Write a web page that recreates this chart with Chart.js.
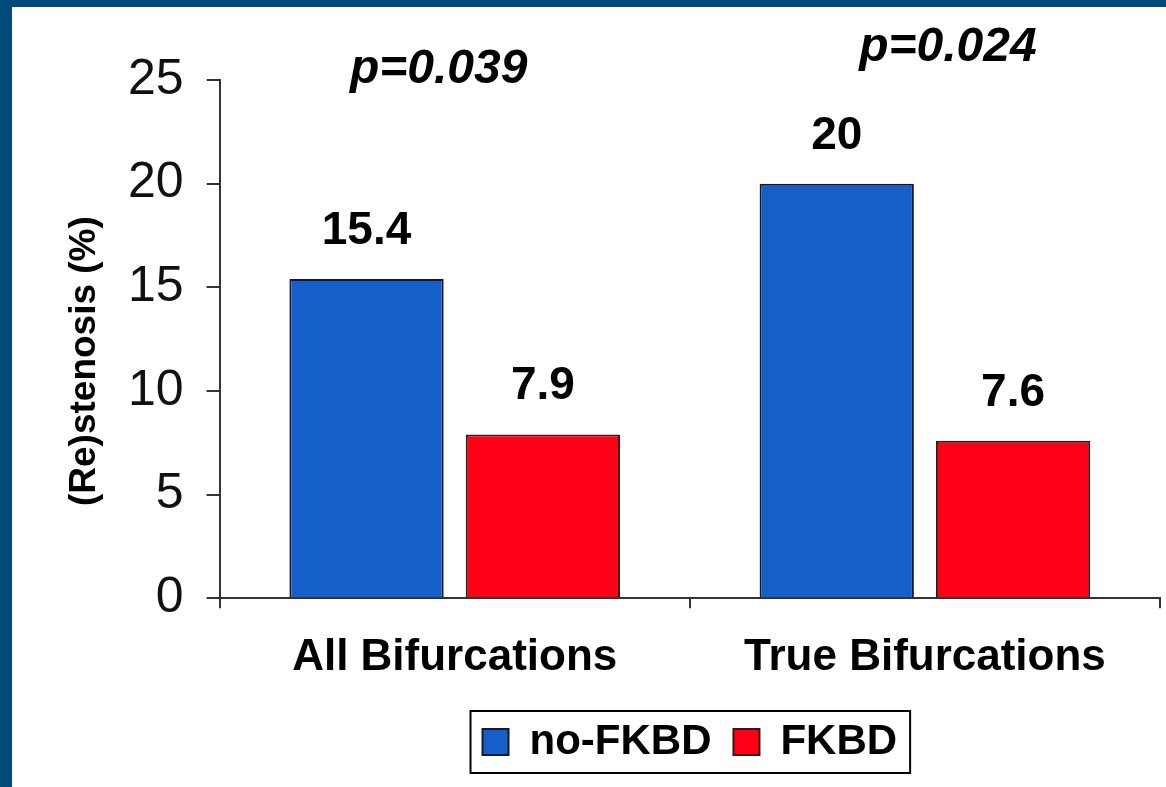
<!DOCTYPE html>
<html>
<head>
<meta charset="utf-8">
<script src="https://cdn.jsdelivr.net/npm/chart.js@4.4.0/dist/chart.umd.min.js"></script>
<style>
  html, body { margin: 0; padding: 0; }
  body { width: 1166px; height: 787px; background: #004a7a; position: relative; overflow: hidden; }
  #wrap { position: absolute; left: 12px; top: 7px; width: 1154px; height: 780px; background: #ffffff; }
</style>
</head>
<body>
<div id="wrap"><canvas id="chart" width="1154" height="780"></canvas></div>
<script>
// chart values
var categories = ["All Bifurcations", "True Bifurcations"];
var seriesNames = ["no-FKBD", "FKBD"];
var noFkbd = [15.4, 20];
var fkbd = [7.9, 7.6];
var valueLabels = [["15.4", "20"], ["7.9", "7.6"]];
var pValues = ["p=0.039", "p=0.024"];
var yTicks = [0, 5, 10, 15, 20, 25];
var yTitle = "(Re)stenosis (%)";

var BLUE = "#1560c8";
var RED = "#ff0016";
var FONT = "'Liberation Sans', Arial, sans-serif";

// writes the numbers above each bar, the p-values and the y title
var barLabels = {
    id: "barLabels",
    afterDatasetsDraw: function (chart) {
        var ctx = chart.ctx;
        ctx.save();
        ctx.fillStyle = "#000";
        ctx.textAlign = "center";
        ctx.textBaseline = "alphabetic";
        ctx.font = "bold 46px " + FONT;
        for (var d = 0; d < chart.data.datasets.length; d++) {
            var meta = chart.getDatasetMeta(d);
            for (var i = 0; i < meta.data.length; i++) {
                var bar = meta.data[i];
                ctx.fillText(valueLabels[d][i], bar.x, bar.y - 35);
            }
        }
        // p-values sit a bit off the group centre, at different heights
        var xs = chart.scales.x;
        var shift = [-16, 23];
        var lift = [-3, 19];
        ctx.font = "italic bold 48px " + FONT;
        for (var j = 0; j < pValues.length; j++)
            ctx.fillText(pValues[j], xs.getPixelForValue(j) + shift[j], chart.chartArea.top - lift[j]);

        // y title, a little below the middle of the axis as in the original
        ctx.translate(73, (chart.chartArea.top + chart.chartArea.bottom) / 2 + 22);
        ctx.rotate(-Math.PI / 2);
        ctx.textBaseline = "middle";
        ctx.font = "bold 37px " + FONT;
        ctx.fillText(yTitle, 0, 0);
        ctx.restore();
    }
};

// draws the frame round the legend
var legendFrame = {
    id: "legendFrame",
    afterDraw: function (chart) {
        var boxes = chart.legend.legendHitBoxes;
        if (!boxes || !boxes.length) return;
        var first = boxes[0];
        var last = boxes[boxes.length - 1];
        var cy = first.top + first.height / 2;
        var ctx = chart.ctx;
        ctx.save();
        ctx.strokeStyle = "#000";
        ctx.lineWidth = 2;
        ctx.strokeRect(first.left - 12, cy - 31, last.left + last.width + 13 - (first.left - 12), 62);
        ctx.restore();
    }
};

new Chart(document.getElementById("chart"), {
    type: "bar",
    data: {
        labels: categories,
        datasets: [
            {
                label: seriesNames[0],
                data: noFkbd,
                backgroundColor: BLUE,
                borderColor: "#16163a",
                borderWidth: 2,
            },
            {
                label: seriesNames[1],
                data: fkbd,
                backgroundColor: RED,
                borderColor: "#3a1616",
                borderWidth: 2,
            },
        ]
    },
    options: {
        responsive: false,
        animation: false,
        categoryPercentage: 0.75,
        barPercentage: 0.875,
        layout: {
            padding: { left: 93, top: 73, right: 6, bottom: 14 }
        },
        plugins: {
            tooltip: { enabled: false },
            legend: {
                position: "bottom",
                fullSize: false,
                labels: {
                    font: { family: FONT, size: 42, weight: "bold" },
                    color: "#000",
                    boxWidth: 26,
                    boxHeight: 26,
                    padding: 22,
                }
            }
        },
        scales: {
            x: {
                // the axis sits a little lower, closer to its labels' space
                afterFit: function (scale) { scale.height -= 8; },
                border: { color: "#333", width: 2 },
                grid: {
                    drawOnChartArea: false,
                    color: "#333",
                    lineWidth: 2,
                    tickLength: 10,
                },
                ticks: {
                    color: "#000",
                    padding: 23,
                    font: { family: FONT, size: 44, weight: "bold" },
                }
            },
            y: {
                min: 0,
                max: 25,
                afterBuildTicks: function (scale) {
                    scale.ticks = yTicks.map(function (v) { return { value: v }; });
                },
                border: { color: "#333", width: 2 },
                grid: {
                    drawOnChartArea: false,
                    color: "#333",
                    lineWidth: 2,
                    tickLength: 13,
                },
                ticks: {
                    color: "#111",
                    padding: 23,
                    font: { family: FONT, size: 50 },
                }
            }
        }
    },
    plugins: [barLabels, legendFrame]
});
</script>
</body>
</html>
